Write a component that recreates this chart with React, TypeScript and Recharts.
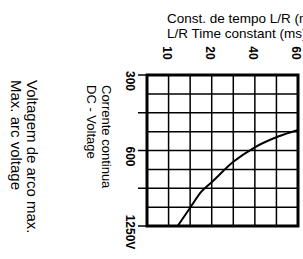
import { LineChart, Line, XAxis, YAxis, CartesianGrid, ReferenceArea } from 'recharts'

// top axis: L/R time constant (ms), placed on grid columns
const timeTicks = [1, 3, 5, 7]
const timeLabels = ['10', '20', '40', '60']

// left axis: max arc voltage, placed on grid rows
const voltTicks = [0, 2, 4, 6, 8]
const voltLabels = ['300', '', '600', '', '1250V']

const gridCols = [0, 1, 2, 3, 4, 5, 6, 7]
const gridRows = [0, 1, 2, 3, 4, 5, 6, 7, 8]

// curve, in grid units
const curveX = [1.42, 2, 2.53, 3, 4, 5, 6.08, 7]
const curveY = [8, 7.03, 6.17, 5.68, 4.6, 3.83, 3.26, 2.91]

const data = curveX.map((x, i) => ({ x, y: curveY[i] }))

const font = '"Liberation Sans", Arial, sans-serif'

const TimeTick = (props: any) => {
  const { x, y, payload } = props
  const i = timeTicks.indexOf(payload.value)
  const cx = x - 2
  const cy = y - 14
  return (
    <text x={cx} y={cy} transform={`rotate(90 ${cx} ${cy})`} textAnchor="middle" dominantBaseline="central"
      fontFamily={font} fontSize={12} fontWeight="bold" fill="#000">
      {timeLabels[i]}
    </text>
  )
}

const VoltTick = (props: any) => {
  const { x, y, payload } = props
  const i = voltTicks.indexOf(payload.value)
  const cx = x - 6
  const cy = y + 6
  return (
    <text x={cx} y={cy} transform={`rotate(90 ${cx} ${cy})`} textAnchor="middle" dominantBaseline="central"
      fontFamily={font} fontSize={12} fontWeight="bold" fill="#000">
      {voltLabels[i]}
    </text>
  )
}

const rotated = (left: number, top: number, size: number, lh: number): React.CSSProperties => ({
  position: 'absolute',
  left,
  top,
  transformOrigin: 'top left',
  transform: 'rotate(90deg)',
  whiteSpace: 'nowrap',
  fontFamily: font,
  fontSize: size,
  lineHeight: lh + 'px',
  color: '#000',
})

const scaleOf = (axis: any) => (axis && typeof axis.scale === 'function' ? axis.scale : null)

export default function App() {
  return (
    <div style={{ position: 'absolute', left: 0, top: 0, width: 303, height: 259, overflow: 'hidden', background: '#fff' }}>
      <div style={{ position: 'absolute', left: 167, top: 11, whiteSpace: 'nowrap', fontFamily: font, fontSize: 13.5, lineHeight: '15px', color: '#000' }}>
        <div>Const. de tempo L/R (ms)</div>
        <div>L/R Time constant (ms)</div>
      </div>
      <div style={rotated(40, 80, 15, 16)}>
        <div>Voltagem de arco max.</div>
        <div>Max. arc voltage</div>
      </div>
      <div style={rotated(114, 85, 13, 15)}>
        <div>Corrente continua</div>
        <div>DC - Voltage</div>
      </div>
      <LineChart width={303} height={259} data={data} margin={{ top: 45, right: 5, bottom: 33, left: 117 }}>
        <CartesianGrid stroke="#000" strokeWidth={1.5}
          verticalCoordinatesGenerator={({ xAxis, offset }: any) => {
            const s = scaleOf(xAxis)
            return gridCols.map(c => (s ? s(c) : offset.left + (c / 7) * offset.width))
          }}
          horizontalCoordinatesGenerator={({ yAxis, offset }: any) => {
            const s = scaleOf(yAxis)
            return gridRows.map(r => (s ? s(r) : offset.top + (r / 8) * offset.height))
          }}
        />
        <XAxis type="number" dataKey="x" domain={[0, 7]} ticks={timeTicks} orientation="top" height={30}
          axisLine={false} tickLine={false} tick={<TimeTick />} interval={0} allowDataOverflow />
        <YAxis type="number" dataKey="y" domain={[0, 8]} ticks={voltTicks} reversed width={30} tickSize={9}
          axisLine={false} tickLine={{ stroke: '#000', strokeWidth: 1.5 }} tick={<VoltTick />} interval={0} allowDataOverflow />
        <ReferenceArea x1={0} x2={7} y1={0} y2={8} fill="none" fillOpacity={0} stroke="#000" strokeWidth={3} />
        <Line type="monotone" dataKey="y" stroke="#000" strokeWidth={2} dot={false} isAnimationActive={false} />
      </LineChart>
    </div>
  )
}
